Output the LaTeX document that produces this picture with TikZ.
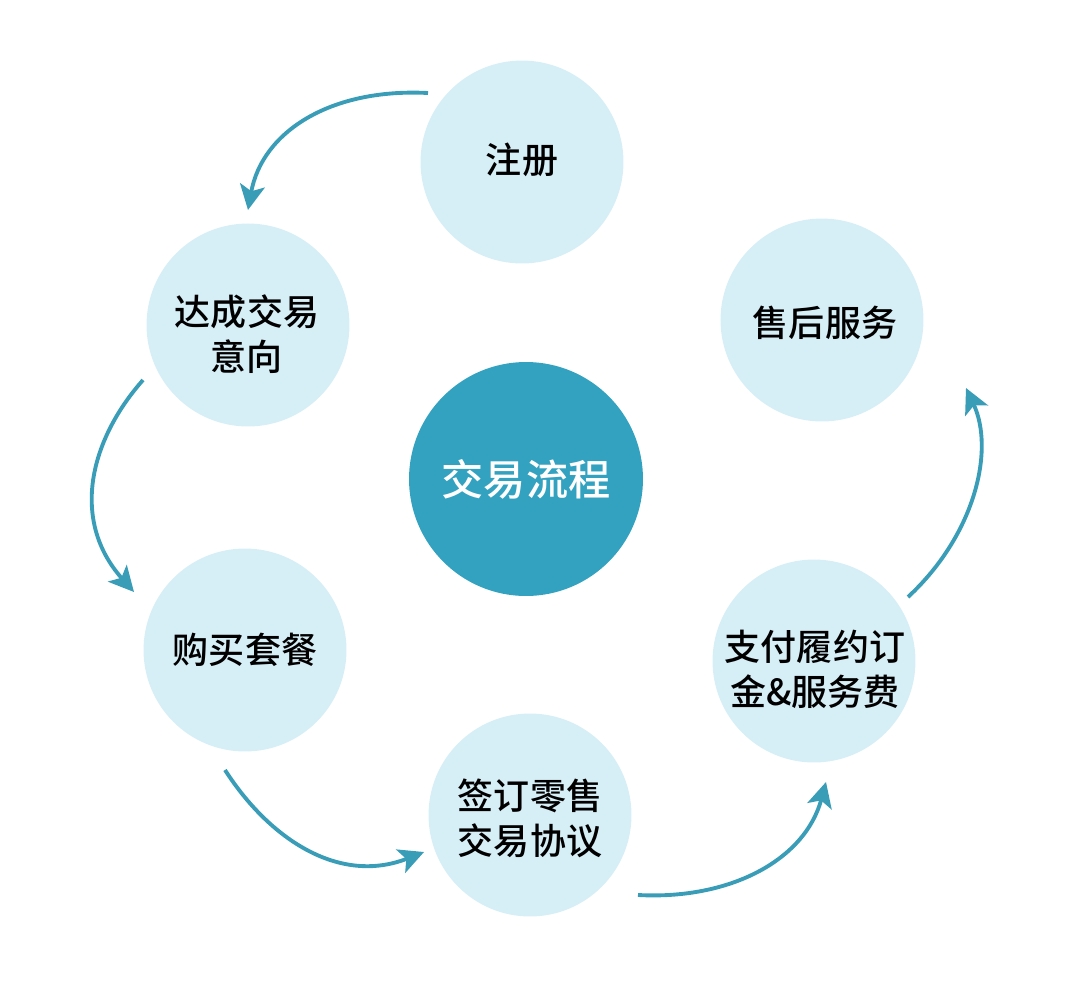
\documentclass[tikz,border=0pt]{standalone}
\usepackage{fontspec}
\newfontfamily\cjk{Noto Sans CJK SC Medium}
\usetikzlibrary{arrows.meta}
\definecolor{lightc}{HTML}{D6EEF6}
\definecolor{darkc}{HTML}{33A2C0}
\definecolor{arrc}{HTML}{3A9DB8}
\tikzset{
  stepnode/.style={circle, fill=lightc, minimum size=4.06cm, inner sep=0pt},
  steptext/.style={inner sep=0pt, align=center, font=\cjk\fontsize{20.5}{25.5}\selectfont, text=black},
  hubnode/.style={circle, fill=darkc, minimum size=4.68cm, inner sep=0pt, font=\cjk\fontsize{24}{28}\selectfont, text=white},
  flow/.style={draw=arrc, line width=2.2pt, -{Stealth[length=0.5cm,width=0.5cm,inset=0.12cm]}}
}
\begin{document}
\begin{tikzpicture}[x=0.02cm,y=-0.02cm]
\useasboundingbox (0,0) rectangle (1080,1001);
\node[hubnode] (hub) at (526,479) {交易流程};
\node[stepnode] (s1) at (522,162) {};
\node[stepnode] (s2) at (248,325) {};
\node[stepnode] (s3) at (245,650) {};
\node[stepnode] (s4) at (530,815) {};
\node[stepnode] (s5) at (814,661) {};
\node[stepnode] (s6) at (822,320) {};
\node[steptext] (t1) at (522,160) {注册};
\node[steptext] (t2) at (247,334) {达成交易\\意向};
\node[steptext] (t3) at (245,650) {购买套餐};
\node[steptext] (t4) at (530,818) {签订零售\\交易协议};
\node[steptext] (t5) at (815,669) {支付履约订\\金\&服务费};
\node[steptext] (t6) at (825,323) {售后服务};
\coordinate (a1s) at (428,93);   \coordinate (a1e) at (248,210);
\coordinate (a2s) at (143,380);  \coordinate (a2e) at (134,592);
\coordinate (a3s) at (225,770);  \coordinate (a3e) at (424,852);
\coordinate (a4s) at (638,895);  \coordinate (a4e) at (826,782);
\coordinate (a5s) at (908,597);  \coordinate (a5e) at (966,388);
\draw[flow] (a1s) .. controls (330,88) and (262,132) .. (a1e);
\draw[flow] (a2s) .. controls (90,440) and (70,520) .. (a2e);
\draw[flow] (a3s) .. controls (270,840) and (340,885) .. (a3e);
\draw[flow] (a4s) .. controls (730,900) and (805,860) .. (a4e);
\draw[flow] (a5s) .. controls (975,535) and (995,450) .. (a5e);
\end{tikzpicture}
\end{document}
